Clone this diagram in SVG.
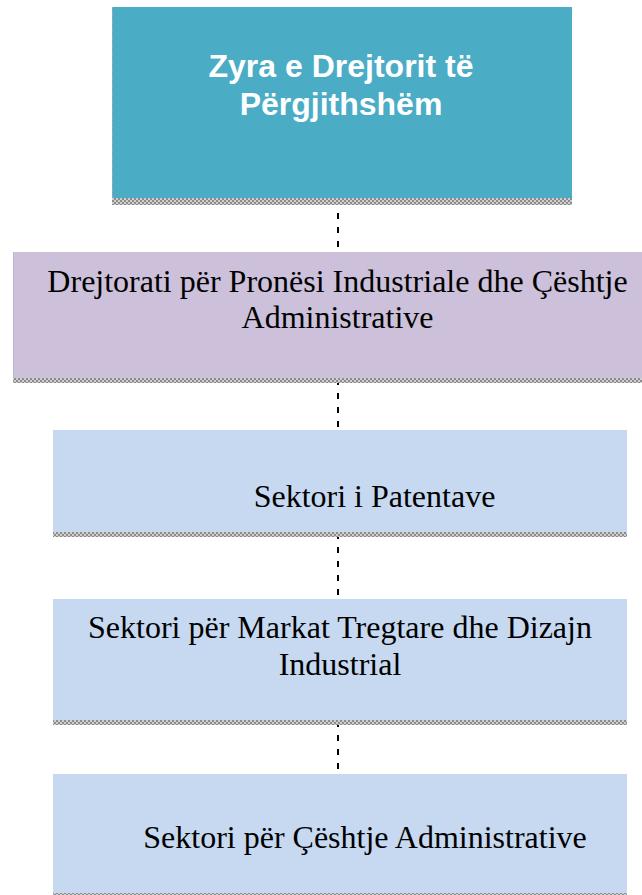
<svg xmlns="http://www.w3.org/2000/svg" width="642" height="895" viewBox="0 0 642 895">
  <defs>
    <pattern id="shade" width="4" height="4" patternUnits="userSpaceOnUse">
      <rect width="4" height="4" fill="#d0d0d0"/>
      <rect width="2" height="2" fill="#8c8c8c"/>
      <rect x="2" y="2" width="2" height="2" fill="#8c8c8c"/>
    </pattern>
  </defs>
  <style>
    .band { fill: url(#shade); }
    .edge { stroke: #b0b0b0; stroke-width: 1; stroke-dasharray: 1 1; fill: none; }
    .title { font-family: "Liberation Sans", Arial, sans-serif; font-weight: bold; font-size: 32px; fill: #ffffff; text-anchor: middle; }
    .label { font-family: "Liberation Serif", "Times New Roman", serif; font-size: 32px; fill: #000000; text-anchor: middle; }
    .conn { stroke: #000000; stroke-width: 2; stroke-dasharray: 6 8; fill: none; }
  </style>
  <rect width="642" height="895" fill="#ffffff"/>

  <g id="connectors">
    <line class="conn" x1="338" y1="199" x2="338" y2="252"/>
    <line class="conn" x1="338" y1="379" x2="338" y2="430"/>
    <line class="conn" x1="338" y1="533" x2="338" y2="599"/>
    <line class="conn" x1="338" y1="721" x2="338" y2="774"/>
  </g>

  <g id="node-zyra">
    <rect x="112" y="7" width="460" height="191" fill="#4BACC6"/>
    <rect class="band" x="112" y="198" width="460" height="7"/>
    <line class="edge" x1="112.5" y1="7" x2="112.5" y2="198"/>
    <text class="title" x="341" y="77">Zyra e Drejtorit të</text>
    <text class="title" x="341" y="115">Përgjithshëm</text>
  </g>

  <g id="node-drejtorati">
    <rect x="13" y="252" width="629" height="126" fill="#CCC0DA"/>
    <rect class="band" x="13" y="378" width="629" height="5"/>
    <line class="edge" x1="13.5" y1="252" x2="13.5" y2="378"/>
    <text class="label" x="337.5" y="292">Drejtorati për Pronësi Industriale dhe Çështje</text>
    <text class="label" x="337.5" y="328">Administrative</text>
  </g>

  <g id="node-patentave">
    <rect x="53" y="430" width="574" height="102" fill="#C6D9F1"/>
    <rect class="band" x="53" y="532" width="574" height="5"/>
    <text class="label" x="374.5" y="507">Sektori i Patentave</text>
  </g>

  <g id="node-markat">
    <rect x="53" y="599" width="574" height="121" fill="#C6D9F1"/>
    <rect class="band" x="53" y="720" width="574" height="5"/>
    <text class="label" x="340" y="638">Sektori për Markat Tregtare dhe Dizajn</text>
    <text class="label" x="340" y="675">Industrial</text>
  </g>

  <g id="node-administrative">
    <rect x="53" y="774" width="574" height="119" fill="#C6D9F1"/>
    <rect class="band" x="53" y="893" width="574" height="2"/>
    <text class="label" x="365" y="848">Sektori për Çështje Administrative</text>
  </g>
</svg>
